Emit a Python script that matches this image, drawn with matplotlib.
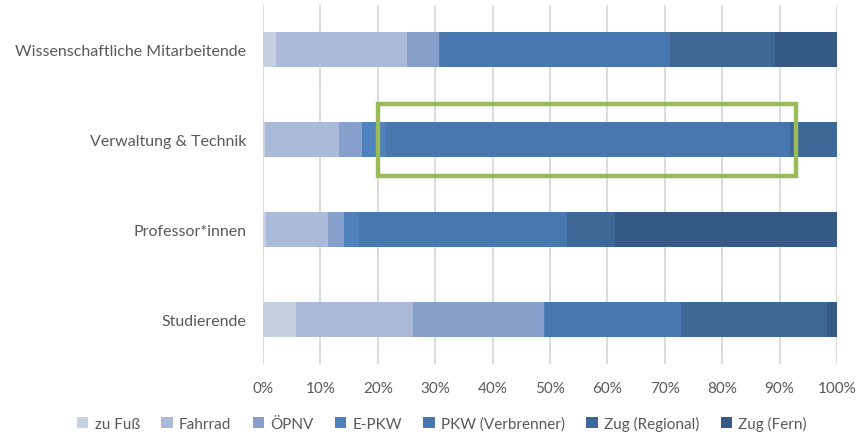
import matplotlib.pyplot as plt
from matplotlib.patches import Rectangle

plt.rcParams['font.family'] = ['Lato', 'DejaVu Sans']

groups = ['Wissenschaftliche Mitarbeitende', 'Verwaltung & Technik', 'Professor*innen', 'Studierende']
modes = ['zu Fuß', 'Fahrrad', 'ÖPNV', 'E-PKW', 'PKW (Verbrenner)', 'Zug (Regional)', 'Zug (Fern)']
colors = ['#C5D0E3', '#ABBAD8', '#86A0CB', '#4F81BD', '#4877AD', '#3E6898', '#345A85']

# share per mode in percent, one list per group (same order as groups)
zu_fuss = [2.3, 0.4, 0.5, 5.8]
fahrrad = [22.8, 12.9, 10.9, 20.3]
oepnv = [5.6, 3.9, 2.7, 22.9]
e_pkw = [0.2, 4.3, 2.7, 0.2]
pkw = [40.0, 70.4, 36.1, 23.6]
zug_regional = [18.3, 8.1, 8.5, 25.5]
zug_fern = [10.8, 0.0, 38.6, 1.7]
series = [zu_fuss, fahrrad, oepnv, e_pkw, pkw, zug_regional, zug_fern]

# highlighted range on "Verwaltung & Technik" (percent)
box_from, box_to = 20.0, 92.9

fig = plt.figure(figsize=(8.58, 4.35), dpi=100)
ax = fig.add_axes([0.3065, 0.161, 0.669, 0.825])

ypos = list(range(len(groups)))[::-1]
left = [0.0] * len(groups)
for name, vals, c in zip(modes, series, colors):
    ax.barh(ypos, vals, left=left, height=0.39, color=c, label=name, zorder=2)
    left = [l + v for l, v in zip(left, vals)]

ax.add_patch(Rectangle((box_from, ypos[1] - 0.4), box_to - box_from, 0.8,
                       fill=False, edgecolor='#9BBB59', linewidth=3.2, zorder=3))

ax.set_xlim(0, 100)
ax.set_ylim(-0.5, 3.5)
ax.set_xticks(range(0, 101, 10))
ax.set_xticklabels([f'{t}%' for t in range(0, 101, 10)])
ax.set_yticks(ypos)
ax.set_yticklabels(groups)
ax.grid(axis='x', color='#D9D9D9', linewidth=1.3, zorder=0)
for s in ax.spines.values():
    s.set_visible(False)
ax.tick_params(length=0, labelsize=11.5, colors='#595959')
ax.tick_params(axis='x', pad=12, labelsize=11)
ax.tick_params(axis='y', pad=12)

fig.legend(loc='lower center', bbox_to_anchor=(0.515, -0.025), ncol=7, frameon=False,
           fontsize=11, handlelength=0.75, handleheight=0.75, handletextpad=0.4,
           columnspacing=1.4, labelcolor='#595959')

fig.savefig('out.png', dpi=100)
